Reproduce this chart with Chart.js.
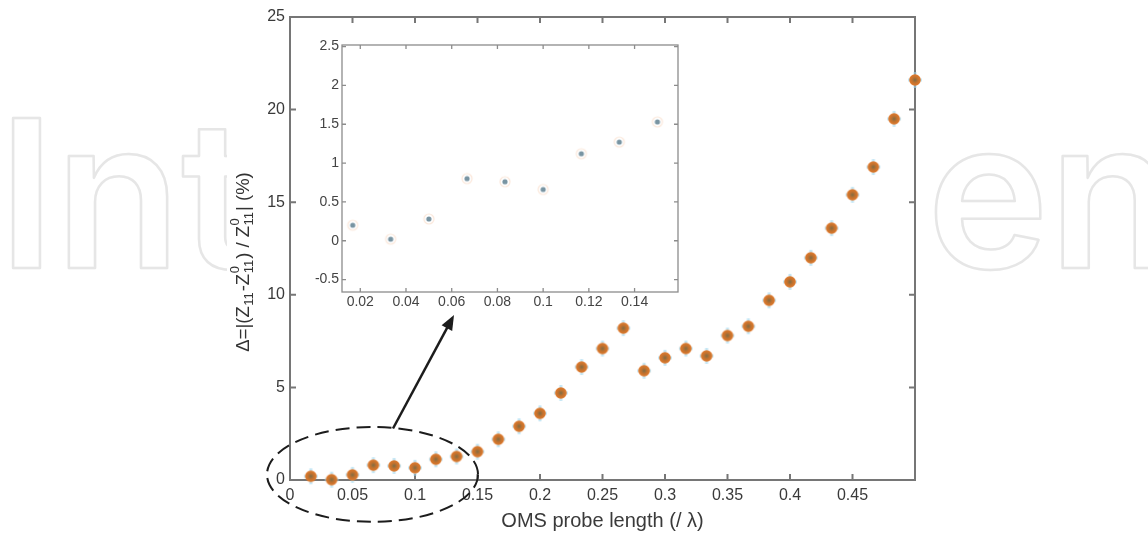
<!DOCTYPE html>
<html>
<head>
<meta charset="utf-8">
<title>OMS probe length</title>
<script src="https://cdn.jsdelivr.net/npm/chart.js@4.4.1/dist/chart.umd.min.js"></script>
<style>
  html, body { margin: 0; padding: 0; background: #fff; }
  #wrap { position: relative; width: 1148px; height: 533px; }
  #mainChart { position: absolute; left: 0; top: 0; }
  #insetChart { position: absolute; left: 296px; top: 33px; }
</style>
</head>
<body>
<div id="wrap">
  <canvas id="mainChart" width="1148" height="533"></canvas>
  <canvas id="insetChart" width="394" height="279"></canvas>
</div>
<script>
// probe length (in wavelengths) and relative change of Z11 (%)
const probeLength = [0.0167, 0.0333, 0.05, 0.0667, 0.0833, 0.1, 0.1167, 0.1333, 0.15, 0.1667,
                     0.1833, 0.2, 0.2167, 0.2333, 0.25, 0.2667, 0.2833, 0.3, 0.3167, 0.3333,
                     0.35, 0.3667, 0.3833, 0.4, 0.4167, 0.4333, 0.45, 0.4667, 0.4833, 0.5];
const deltaZ11 = [0.20, 0.02, 0.28, 0.80, 0.76, 0.66, 1.12, 1.27, 1.53, 2.2,
                  2.9, 3.6, 4.7, 6.1, 7.1, 8.2, 5.9, 6.6, 7.1, 6.7,
                  7.8, 8.3, 9.7, 10.7, 12.0, 13.6, 15.4, 16.9, 19.5, 21.6];
const insetCount = 9; // the zoomed view shows the short probes only

const mainXTicks = [0, 0.05, 0.1, 0.15, 0.2, 0.25, 0.3, 0.35, 0.4, 0.45];
const mainYTicks = [0, 5, 10, 15, 20, 25];
const insetXTicks = [0.02, 0.04, 0.06, 0.08, 0.1, 0.12, 0.14];
const insetYTicks = [-0.5, 0, 0.5, 1, 1.5, 2, 2.5];

const xTitle = 'OMS probe length (/ λ)';

// dashed ellipse around the short probes and the arrow to the inset (data units)
const zoomRing = { x: 0.066, y: 0.3, rx: 0.0844, ry: 2.56 };
const zoomArrow = { from: [0.0824, 2.78], to: [0.1312, 8.91] };

const FONT = '"Liberation Sans", Arial, Helvetica, sans-serif';

function points(n) {
  return probeLength.slice(0, n).map((x, i) => ({ x: x, y: deltaZ11[i] }));
}

function fmt(v) {
  return String(Number(v.toFixed(3)));
}

function mainMarker() {
  const c = document.createElement('canvas');
  c.width = c.height = 18;
  const g = c.getContext('2d');
  g.strokeStyle = 'rgba(160,215,238,0.6)';
  g.lineWidth = 3;
  g.beginPath();
  g.moveTo(9, 1); g.lineTo(9, 17);
  g.moveTo(2, 9); g.lineTo(16, 9);
  g.stroke();
  const rg = g.createRadialGradient(9, 9, 0, 9, 9, 5.8);
  rg.addColorStop(0, '#7f6c44');
  rg.addColorStop(0.5, '#c2722f');
  rg.addColorStop(1, '#e27a2b');
  g.fillStyle = rg;
  g.beginPath();
  g.arc(9, 9, 5.8, 0, Math.PI * 2);
  g.fill();
  return c;
}

function insetMarker() {
  const c = document.createElement('canvas');
  c.width = c.height = 14;
  const g = c.getContext('2d');
  g.strokeStyle = 'rgba(240,165,110,0.25)';
  g.lineWidth = 1.2;
  g.beginPath();
  g.arc(7, 7, 5, 0, Math.PI * 2);
  g.stroke();
  g.fillStyle = '#7894a2';
  g.beginPath();
  g.arc(7, 7, 2.6, 0, Math.PI * 2);
  g.fill();
  return c;
}

// axes box with inward tick marks on all four sides
const framePlugin = {
  id: 'frame',
  beforeDatasetsDraw(chart, args, opts) {
    const { ctx, chartArea: a, scales } = chart;
    ctx.save();
    ctx.strokeStyle = opts.color;
    ctx.lineWidth = opts.width;
    ctx.strokeRect(a.left, a.top, a.right - a.left, a.bottom - a.top);
    ctx.beginPath();
    scales.x.ticks.forEach(t => {
      const px = scales.x.getPixelForValue(t.value);
      ctx.moveTo(px, a.bottom); ctx.lineTo(px, a.bottom - opts.tick);
      ctx.moveTo(px, a.top); ctx.lineTo(px, a.top + opts.tick);
    });
    scales.y.ticks.forEach(t => {
      const py = scales.y.getPixelForValue(t.value);
      ctx.moveTo(a.left, py); ctx.lineTo(a.left + opts.tick, py);
      ctx.moveTo(a.right, py); ctx.lineTo(a.right - opts.tick, py);
    });
    ctx.stroke();
    ctx.restore();
  }
};

// white page with the faint publisher word behind the figure panel
const backdropPlugin = {
  id: 'backdrop',
  beforeDraw(chart) {
    const ctx = chart.ctx;
    ctx.save();
    ctx.fillStyle = '#fff';
    ctx.fillRect(0, 0, chart.width, chart.height);
    ctx.font = '600 206px Inter, "Open Sans", sans-serif';
    ctx.strokeStyle = '#e6e6e6';
    ctx.lineWidth = 2.5;
    ctx.lineJoin = 'round';
    const left = ctx.measureText('Int').actualBoundingBoxLeft;
    const right = ctx.measureText('en').actualBoundingBoxLeft;
    ctx.strokeText('Int', 13 + left, 268);
    ctx.strokeText('en', 935 + right, 268);
    ctx.fillStyle = '#fff';
    ctx.fillRect(227, 0, 703, chart.height);
    ctx.restore();
  }
};

// rotated y title with sub- and superscripts
const yTitlePlugin = {
  id: 'yTitle',
  afterDraw(chart) {
    const ctx = chart.ctx;
    const big = '18.5px ' + FONT;
    const small = '13px ' + FONT;
    const parts = [
      { t: 'Δ=|(Z' }, { sub: '11' }, { t: '-Z' }, { sup: '0', sub: '11' },
      { t: ') / Z' }, { sup: '0', sub: '11' }, { t: '| (%)' }
    ];
    ctx.save();
    const widths = parts.map(p => {
      if (p.t) { ctx.font = big; return ctx.measureText(p.t).width; }
      ctx.font = small;
      return Math.max(ctx.measureText(p.sub || '').width, ctx.measureText(p.sup || '').width) + 1.5;
    });
    const total = widths.reduce((s, w) => s + w, 0);
    ctx.translate(249, 262);
    ctx.rotate(-Math.PI / 2);
    ctx.fillStyle = '#333';
    ctx.textBaseline = 'alphabetic';
    let x = -total / 2;
    parts.forEach((p, i) => {
      if (p.t) {
        ctx.font = big;
        ctx.fillText(p.t, x, 0);
      } else {
        ctx.font = small;
        if (p.sub) ctx.fillText(p.sub, x + 0.5, 4);
        if (p.sup) ctx.fillText(p.sup, x + 0.5, -10);
      }
      x += widths[i];
    });
    ctx.restore();
  }
};

const zoomNotePlugin = {
  id: 'zoomNote',
  afterDraw(chart) {
    const { ctx, scales: { x, y } } = chart;
    ctx.save();
    ctx.strokeStyle = '#1c1c1c';
    ctx.lineWidth = 2;
    ctx.setLineDash([14, 7]);
    ctx.beginPath();
    const cx = x.getPixelForValue(zoomRing.x);
    const cy = y.getPixelForValue(zoomRing.y);
    const rx = x.getPixelForValue(zoomRing.x + zoomRing.rx) - cx;
    const ry = cy - y.getPixelForValue(zoomRing.y + zoomRing.ry);
    ctx.ellipse(cx, cy, rx, ry, 0, 0, Math.PI * 2);
    ctx.stroke();

    ctx.setLineDash([]);
    const x0 = x.getPixelForValue(zoomArrow.from[0]);
    const y0 = y.getPixelForValue(zoomArrow.from[1]);
    const x1 = x.getPixelForValue(zoomArrow.to[0]);
    const y1 = y.getPixelForValue(zoomArrow.to[1]);
    const ang = Math.atan2(y1 - y0, x1 - x0);
    const head = 15;
    ctx.lineWidth = 2.5;
    ctx.beginPath();
    ctx.moveTo(x0, y0);
    ctx.lineTo(x1 - head * 0.8 * Math.cos(ang), y1 - head * 0.8 * Math.sin(ang));
    ctx.stroke();
    ctx.fillStyle = '#1c1c1c';
    ctx.beginPath();
    ctx.moveTo(x1, y1);
    ctx.lineTo(x1 - head * Math.cos(ang) + 6 * Math.sin(ang), y1 - head * Math.sin(ang) - 6 * Math.cos(ang));
    ctx.lineTo(x1 - head * Math.cos(ang) - 6 * Math.sin(ang), y1 - head * Math.sin(ang) + 6 * Math.cos(ang));
    ctx.closePath();
    ctx.fill();
    ctx.restore();
  }
};

const insetBgPlugin = {
  id: 'insetBg',
  beforeDraw(chart) {
    const { ctx, chartArea: a } = chart;
    ctx.save();
    ctx.fillStyle = '#fff';
    ctx.fillRect(a.left, a.top, a.right - a.left, a.bottom - a.top);
    ctx.restore();
  }
};

new Chart(document.getElementById('mainChart'), {
  type: 'scatter',
  data: {
    datasets: [{
      data: points(probeLength.length),
      pointStyle: mainMarker(),
      pointRadius: 6,
      clip: false
    }]
  },
  options: {
    responsive: false,
    animation: false,
    layout: { padding: { left: 250, right: 233, top: 17, bottom: 0 } },
    plugins: {
      legend: { display: false },
      tooltip: { enabled: false },
      frame: { color: '#767676', width: 2, tick: 6 }
    },
    scales: {
      x: {
        type: 'linear',
        min: 0,
        max: 0.5,
        afterBuildTicks: s => { s.ticks = mainXTicks.map(v => ({ value: v })); },
        afterFit: s => { s.height = 53; },
        grid: { display: false, drawTicks: false },
        border: { display: false },
        ticks: { padding: 6, color: '#3a3a3a', font: { family: FONT, size: 16 }, callback: fmt },
        title: {
          display: true,
          text: xTitle,
          color: '#3a3a3a',
          font: { family: FONT, size: 20 },
          padding: { top: 0, bottom: 0 }
        }
      },
      y: {
        min: 0,
        max: 25,
        afterBuildTicks: s => { s.ticks = mainYTicks.map(v => ({ value: v })); },
        afterFit: s => { s.width = 40; },
        grid: { display: false, drawTicks: false },
        border: { display: false },
        ticks: { padding: 5, color: '#3a3a3a', font: { family: FONT, size: 16 }, callback: fmt }
      }
    }
  },
  plugins: [backdropPlugin, framePlugin, yTitlePlugin, zoomNotePlugin]
});

new Chart(document.getElementById('insetChart'), {
  type: 'scatter',
  data: {
    datasets: [{
      data: points(insetCount),
      pointStyle: insetMarker(),
      pointRadius: 4,
      clip: false
    }]
  },
  options: {
    responsive: false,
    animation: false,
    layout: { padding: { left: 6, right: 12, top: 12, bottom: 0 } },
    plugins: {
      legend: { display: false },
      tooltip: { enabled: false },
      frame: { color: '#8c8c8c', width: 1.3, tick: 4 }
    },
    scales: {
      x: {
        type: 'linear',
        min: 0.012,
        max: 0.159,
        afterBuildTicks: s => { s.ticks = insetXTicks.map(v => ({ value: v })); },
        afterFit: s => { s.height = 20; },
        grid: { display: false, drawTicks: false },
        border: { display: false },
        ticks: { padding: 2, color: '#444', font: { family: FONT, size: 14 }, callback: fmt }
      },
      y: {
        min: -0.66,
        max: 2.52,
        afterBuildTicks: s => { s.ticks = insetYTicks.map(v => ({ value: v })); },
        afterFit: s => { s.width = 40; },
        grid: { display: false, drawTicks: false },
        border: { display: false },
        ticks: { padding: 3, color: '#444', font: { family: FONT, size: 14 }, callback: fmt }
      }
    }
  },
  plugins: [insetBgPlugin, framePlugin]
});
</script>
</body>
</html>
